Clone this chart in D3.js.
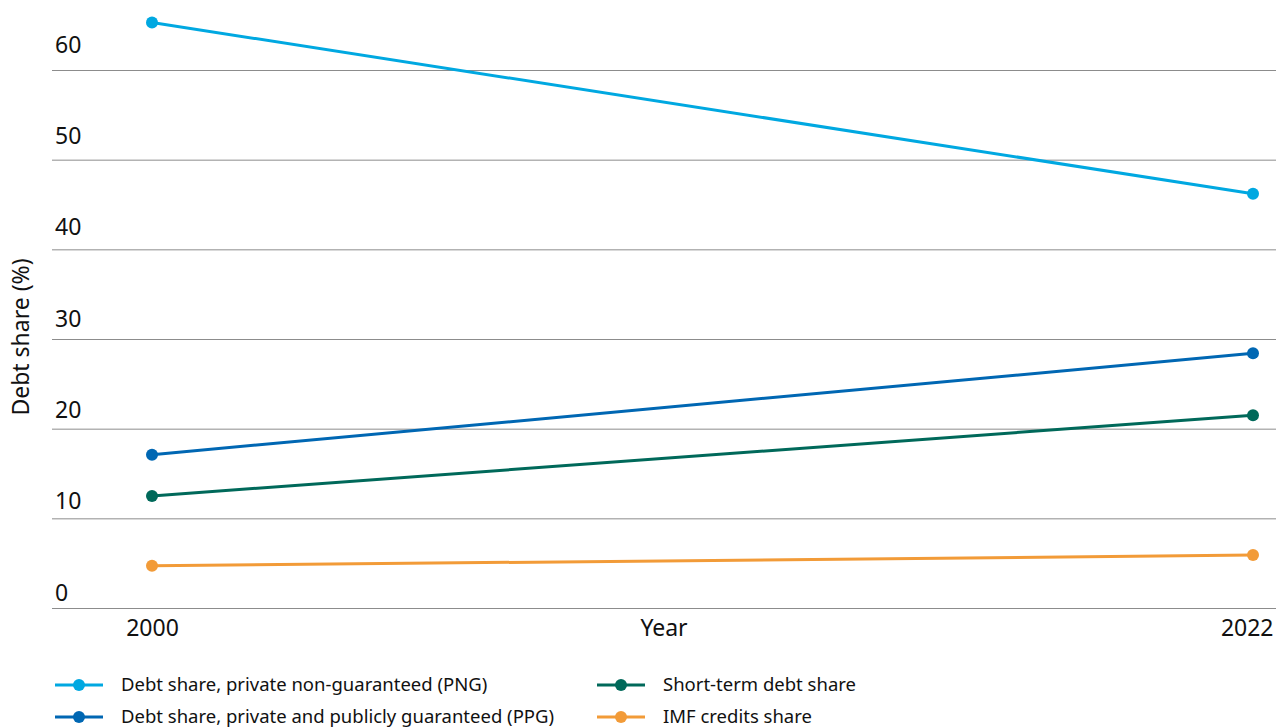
<!DOCTYPE html>
<html><head><meta charset="utf-8">
<script src="https://cdn.jsdelivr.net/npm/d3@7"></script>
<style>body{margin:0;background:#fff;font-family:"Noto Sans",sans-serif;}</style>
</head><body>
<svg id="c" width="1276" height="727"></svg>
<script>
const years = [2000, 2022];
const seriesNames = ["Debt share, private non-guaranteed (PNG)", "Debt share, private and publicly guaranteed (PPG)", "Short-term debt share", "IMF credits share"];
const pngValues = [65.3, 46.2];
const ppgValues = [17.1, 28.4];
const shortTermValues = [12.5, 21.5];
const imfValues = [4.7, 5.9];
const seriesColors = ["#00a8e1", "#0067b3", "#00695a", "#f29b38"];
const yTicks = [0, 10, 20, 30, 40, 50, 60];

const series = [pngValues, ppgValues, shortTermValues, imfValues].map((v, i) => ({name: seriesNames[i], color: seriesColors[i], values: v}));

const svg = d3.select("#c");
const x = d3.scalePoint().domain(years).range([152, 1253]);
const y = d3.scaleLinear().domain([0, 60]).range([608, 70]);
// tick-label placement scale (labels sit above their gridlines)
const yLabel = d3.scaleLinear().domain([0, 60]).range([592, 44]);

// grid + y tick labels
const yAxis = d3.axisLeft(y).tickValues(yTicks).tickSize(0).tickFormat(d3.format("d"));
const gy = svg.append("g").attr("transform", "translate(52,0)").call(yAxis);
gy.select(".domain").remove();
gy.selectAll(".tick line").attr("x2", 1276 - 52).attr("stroke", "#8c8c8c").attr("stroke-width", 1);
gy.selectAll(".tick text").attr("x", 3).attr("y", d => yLabel(d) - y(d)).attr("dy", "0.36em").attr("text-anchor", "start")
  .attr("font-family", "Noto Sans").attr("font-size", 23).attr("fill", "#111");

// x axis labels
const xAxis = d3.axisBottom(x).tickSize(0).tickFormat(d3.format("d"));
const gx = svg.append("g").attr("transform", "translate(0,608)").call(xAxis);
gx.select(".domain").remove();
gx.selectAll(".tick text").attr("dy", 0).attr("y", 28).attr("font-family", "Noto Sans").attr("font-size", 23).attr("fill", "#111");
gx.selectAll(".tick text").filter(d => d === years[years.length - 1]).attr("text-anchor", "end").attr("x", 1273 - x(years[years.length - 1]));

svg.append("text").attr("x", 664).attr("y", 636).attr("text-anchor", "middle")
  .attr("font-family", "Noto Sans").attr("font-size", 23).attr("fill", "#111").text("Year");
svg.append("text").attr("transform", "translate(29,337) rotate(-90)").attr("text-anchor", "middle")
  .attr("font-family", "Noto Sans").attr("font-size", 23).attr("fill", "#111").text("Debt share (%)");

const line = d3.line().x((d, i) => x(years[i])).y(d => y(d));
const gs = svg.append("g").selectAll("g").data(series).join("g");
gs.append("path").attr("d", d => line(d.values)).attr("fill", "none").attr("stroke", d => d.color).attr("stroke-width", 3);
gs.selectAll("circle").data(d => d.values.map((v, i) => ({v, i, color: d.color}))).join("circle")
  .attr("cx", d => x(years[d.i])).attr("cy", d => y(d.v)).attr("r", 6).attr("fill", d => d.color);

// legend
const legPos = [[55, 685], [55, 717], [597, 685], [597, 717]];
const lg = svg.append("g").selectAll("g").data(series).join("g")
  .attr("transform", (d, i) => `translate(${legPos[i][0]},${legPos[i][1]})`);
lg.append("line").attr("x1", 0).attr("x2", 48).attr("stroke", d => d.color).attr("stroke-width", 3);
lg.append("circle").attr("cx", 24).attr("r", 6).attr("fill", d => d.color);
lg.append("text").attr("x", 66).attr("dy", "0.35em").attr("font-family", "Noto Sans").attr("font-size", 18.5).attr("fill", "#111").text(d => d.name);
</script>
</body></html>
